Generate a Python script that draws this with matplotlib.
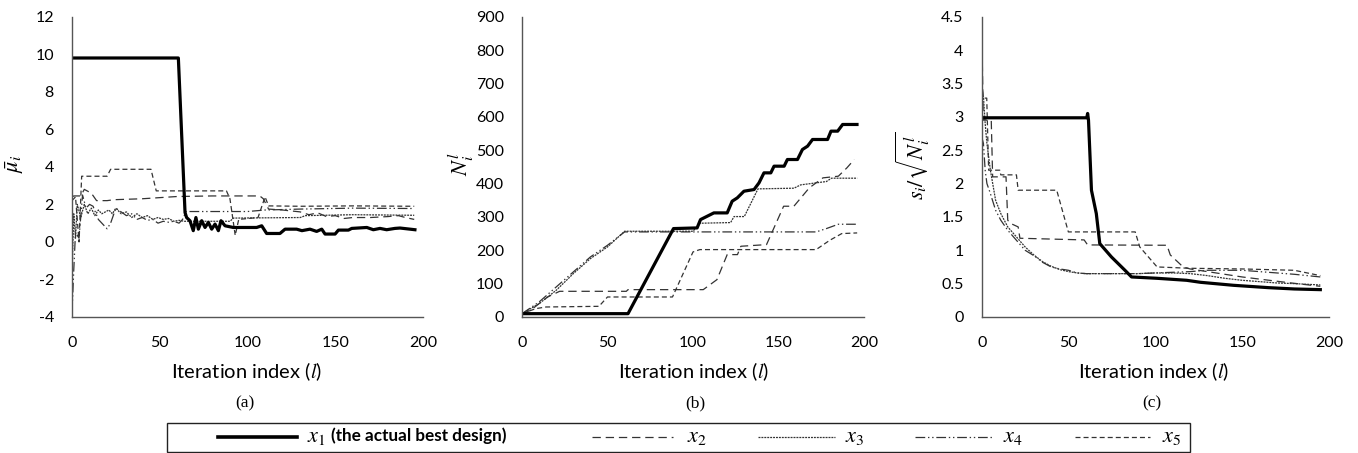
import matplotlib
matplotlib.use("Agg")
import matplotlib.pyplot as plt
from matplotlib.patches import Rectangle
from matplotlib.lines import Line2D

plt.rcParams['font.family'] = ['Lato', 'DejaVu Sans']
plt.rcParams['mathtext.fontset'] = 'stix'
plt.rcParams['lines.scale_dashes'] = False

# ---------------- data: panel (a) mean estimates ----------------
a_x1_l = [0, 60.6, 64.4, 65.3, 67.2, 69.1, 70.6, 72, 73.9, 75.8, 77.7, 79.6, 81.5, 83.4, 84.9, 87.2,
          91.9, 105.2, 108.1, 110.9, 118.5, 121.4, 128, 131, 135.6, 139.4, 142.3, 144.2, 149.9,
          151.8, 157.5, 159.4, 168, 171.7, 175.5, 179.3, 184, 186.9, 192.6, 195.4]
a_x1_v = [9.8, 9.8, 1.57, 1.3, 1.13, 0.6, 1.3, 0.68, 1.13, 0.77, 1.04, 0.68, 0.95, 0.6, 1.13, 0.86,
          0.77, 0.77, 0.86, 0.45, 0.45, 0.68, 0.68, 0.6, 0.68, 0.56, 0.68, 0.42, 0.42,
          0.63, 0.63, 0.72, 0.77, 0.65, 0.72, 0.65, 0.72, 0.74, 0.68, 0.65]
a_x2_l = [0, 1, 5, 7, 11, 14, 20, 24, 40, 60, 80, 107, 109, 112, 120, 130, 135, 140, 145, 150,
          155, 160, 170, 180, 186, 190, 195]
a_x2_v = [2.4, 2.45, 2.45, 2.8, 2.6, 2.2, 2.2, 2.25, 2.3, 2.42, 2.45, 2.45, 2.3, 1.75, 1.7, 1.6,
          1.45, 1.55, 1.35, 1.4, 1.25, 1.3, 1.3, 1.35, 1.4, 1.3, 1.2]
a_x3_l = [0, 1, 2, 3, 5, 7, 9, 11, 13, 15, 17, 19, 21, 23, 25, 28, 31, 34, 37, 40, 43, 46, 49,
          52, 55, 58, 61, 64, 90, 92, 130, 133, 160, 195]
a_x3_v = [-1.8, 1.5, 0.2, 2.0, 1.3, 2.0, 1.5, 1.8, 1.4, 1.7, 1.5, 1.6, 1.7, 1.5, 1.8, 1.5, 1.6,
          1.3, 1.5, 1.3, 1.4, 1.2, 1.3, 1.2, 1.25, 1.1, 1.15, 1.1, 1.1, 1.27, 1.3, 1.4, 1.45, 1.42]
a_x4_l = [0, 1, 2, 4, 6, 8, 10, 12, 15, 18, 20, 22, 25, 28, 31, 34, 37, 40, 43, 46, 49, 52, 55,
          58, 61, 63, 65, 100, 110, 130, 160, 195]
a_x4_v = [-3.8, -1.5, 0.5, 0.2, 2.5, 1.8, 2.0, 1.9, 1.2, 0.9, 0.7, 1.0, 1.8, 1.6, 1.4, 1.5, 1.2,
          1.3, 1.15, 1.2, 1.0, 1.1, 1.05, 1.1, 1.0, 1.2, 1.62, 1.62, 1.7, 1.75, 1.8, 1.78]
a_x5_l = [0, 2, 4, 5.5, 20, 22, 45, 48, 88, 90, 93, 95, 106, 110, 112, 130, 160, 195]
a_x5_v = [2.2, 2.4, 0.0, 3.5, 3.5, 3.87, 3.87, 2.72, 2.72, 2.3, 0.35, 1.2, 1.3, 2.4, 1.92, 1.9,
          1.92, 1.9]

# ---------------- data: panel (b) sample counts ----------------
b_x1_l = [0, 62, 88.6, 102.4, 104.4, 112.2, 120, 122.9, 125.9, 129.8, 135.7, 138.6, 141.5, 145.5,
          147.4, 153.3, 155.2, 161.1, 164, 167, 169.9, 178.7, 180.7, 184.6, 187.5, 191.4, 195.9]
b_x1_v = [10, 10, 265, 267, 292, 312, 312, 347, 357, 377, 382, 402, 432, 432, 452, 452, 472, 472,
          502, 512, 532, 532, 557, 557, 577, 577, 577]
b_x2_l = [0, 5, 15, 22, 61, 62, 106, 114, 120, 126, 128, 143, 153, 159, 168, 176, 185, 190, 194.3]
b_x2_v = [10, 20, 60, 77, 77, 82, 82, 112, 187, 187, 212, 217, 332, 332, 387, 417, 422, 447, 472]
b_x3_l = [0, 10, 20, 30, 40, 50, 60, 100, 104, 122, 124, 130, 138, 159, 163, 178, 181, 196]
b_x3_v = [10, 40, 80, 130, 175, 210, 257, 257, 281, 283, 301, 301, 384, 386, 396, 406, 416, 416]
b_x4_l = [0, 10, 20, 30, 40, 50, 60, 172, 178, 185, 196]
b_x4_v = [10, 45, 90, 135, 180, 215, 255, 255, 265, 278, 278]
b_x5_l = [0, 8, 14, 45, 50, 88, 100, 104, 172, 180, 187, 196]
b_x5_v = [10, 25, 30, 32, 60, 60, 195, 202, 202, 230, 250, 252]

# ---------------- data: panel (c) standard errors ----------------
c_x1_l = [0, 60.5, 61, 61.5, 63.2, 66, 68, 74.7, 82.5, 86.3, 101, 118, 126, 145, 165, 180, 195]
c_x1_v = [2.985, 2.985, 3.05, 2.95, 1.9, 1.55, 1.1, 0.9, 0.7, 0.6, 0.58, 0.55, 0.52, 0.475,
          0.44, 0.42, 0.41]
c_x2_l = [0, 0.9, 5.5, 6.3, 14, 15, 16.8, 21, 22, 59, 61, 106.7, 108.6, 116, 120, 135, 150,
          175, 195]
c_x2_v = [4.4, 2.95, 2.95, 2.1, 2.1, 1.45, 1.4, 1.35, 1.18, 1.155, 1.08, 1.075, 0.93, 0.75,
          0.72, 0.66, 0.6, 0.52, 0.46]
c_x3_l = [0, 1, 2, 3, 5, 8, 11, 15, 20, 25, 30, 35, 40, 45, 50, 55, 60, 90, 100, 110, 120, 130,
          140, 150, 160, 170, 180, 195]
c_x3_v = [3.3, 3.3, 2.9, 2.6, 2.2, 1.75, 1.55, 1.35, 1.2, 1.05, 0.93, 0.83, 0.76, 0.71, 0.68,
          0.66, 0.65, 0.65, 0.66, 0.66, 0.65, 0.62, 0.58, 0.55, 0.53, 0.51, 0.5, 0.48]
c_x4_l = [0, 1, 2, 3, 5, 8, 11, 15, 20, 25, 30, 35, 40, 45, 50, 55, 60, 90, 100, 110, 120, 130,
          140, 150, 160, 170, 180, 195]
c_x4_v = [2.7, 2.6, 2.2, 2.0, 1.85, 1.6, 1.45, 1.3, 1.15, 1.0, 0.92, 0.82, 0.75, 0.72, 0.7,
          0.66, 0.65, 0.65, 0.66, 0.67, 0.68, 0.7, 0.7, 0.7, 0.68, 0.66, 0.64, 0.6]
c_x5_l = [0, 1, 2.9, 4, 10.4, 11, 20, 21, 43.2, 49.9, 88.4, 91, 101, 120, 150, 180, 195]
c_x5_v = [3.5, 3.28, 3.28, 2.2, 2.2, 2.13, 2.13, 1.9, 1.9, 1.275, 1.275, 1.05, 0.75, 0.73,
          0.72, 0.7, 0.62]

x_ticks = [0, 50, 100, 150, 200]
a_yticks = [-4, -2, 0, 2, 4, 6, 8, 10, 12]
b_yticks = [0, 100, 200, 300, 400, 500, 600, 700, 800, 900]
c_yticks = [0, 0.5, 1, 1.5, 2, 2.5, 3, 3.5, 4, 4.5]

legend_math = [r'$x_1$', r'$x_2$', r'$x_3$', r'$x_4$', r'$x_5$']
legend_suffix = '(the actual best design)'
xlabel_text = r'Iteration index ($l$)'
panel_letters = ['(a)', '(b)', '(c)']
ylabels = [r'$\bar{\mu}_i$', r'$N_i^l$', r'$s_i/\sqrt{N_i^l}$']

# ---------------- styles ----------------
THIN = '#333333'
styles = [
    dict(color='black', lw=2.3, linestyle='-'),
    dict(color=THIN, lw=0.9, linestyle=(0, (6.0, 3.5))),
    dict(color=THIN, lw=0.9, linestyle=(0, (1.4, 0.7))),
    dict(color=THIN, lw=0.9, linestyle=(0, (7, 2, 1, 2, 1, 2))),
    dict(color=THIN, lw=0.9, linestyle=(0, (3.6, 2.2))),
]

W, H = 1358, 453
fig = plt.figure(figsize=(W / 100, H / 100), dpi=100)

def fx(px):
    return px / W

def fy(py):
    return (H - py) / H

panels = [
    dict(left=72, right=423, data=[(a_x1_l, a_x1_v), (a_x2_l, a_x2_v), (a_x3_l, a_x3_v),
                                   (a_x4_l, a_x4_v), (a_x5_l, a_x5_v)],
         ylim=(-4, 12), yticks=a_yticks, letter_x=245, xl_x=247, yl_x=15, yl_y=164),
    dict(left=522, right=864, data=[(b_x1_l, b_x1_v), (b_x2_l, b_x2_v), (b_x3_l, b_x3_v),
                                    (b_x4_l, b_x4_v), (b_x5_l, b_x5_v)],
         ylim=(0, 900), yticks=b_yticks, letter_x=695, xl_x=694, yl_x=461, yl_y=164),
    dict(left=981.7, right=1329, data=[(c_x1_l, c_x1_v), (c_x2_l, c_x2_v), (c_x3_l, c_x3_v),
                                       (c_x4_l, c_x4_v), (c_x5_l, c_x5_v)],
         ylim=(0, 4.5), yticks=c_yticks, letter_x=1152, xl_x=1154, yl_x=913, yl_y=166),
]

top_px, bot_px = 16.7, 317
for i, p in enumerate(panels):
    ax = fig.add_axes([fx(p['left']), fy(bot_px), (p['right'] - p['left']) / W,
                       (bot_px - top_px) / H])
    for k in [4, 3, 2, 1, 0]:
        lx, lv = p['data'][k]
        ax.plot(lx, lv, solid_joinstyle='round', **styles[k])
    ax.set_xlim(0, 200)
    ax.set_ylim(*p['ylim'])
    ax.set_xticks(x_ticks)
    ax.set_yticks(p['yticks'])
    ax.set_yticklabels(['%g' % t for t in p['yticks']])
    ax.tick_params(axis='both', length=0, labelsize=11.5, colors='black')
    ax.tick_params(axis='y', pad=13.0)
    ax.tick_params(axis='x', pad=14.0)
    for s in ['top', 'right']:
        ax.spines[s].set_visible(False)
    for s in ['left', 'bottom']:
        ax.spines[s].set_color('#555555')
        ax.spines[s].set_linewidth(1.0)
    ax.patch.set_alpha(0)
    fig.text(fx(p['xl_x']), fy(372), xlabel_text, ha='center', va='center', fontsize=14.5)
    fig.text(fx(p['letter_x']), fy(403), panel_letters[i], ha='center', va='center',
             fontsize=12.5, family='Liberation Serif')
    fig.text(fx(p['yl_x']), fy(p['yl_y']), ylabels[i], ha='center', va='center',
             rotation=90, fontsize=16)

# legend (drawn by hand to match the original's spacing)
leg_y = 437
handle_spans = [(218, 297), (592, 673), (758, 835), (915, 993), (1075, 1150)]
text_x = [307, 687, 845, 1003, 1162]
for k in range(5):
    st = dict(styles[k])
    if k == 0:
        st['lw'] = 2.6
    x0, x1 = handle_spans[k]
    fig.add_artist(Line2D([fx(x0), fx(x1)], [fy(leg_y), fy(leg_y)],
                          transform=fig.transFigure, **st))
    fig.text(fx(text_x[k]), fy(leg_y), legend_math[k], ha='left', va='center', fontsize=16)
fig.text(fx(331), fy(leg_y - 1), legend_suffix, ha='left', va='center', fontsize=12.3,
         fontweight='bold')
fig.patches.append(Rectangle((fx(167), fy(452)), (1190 - 167) / W, 29 / H,
                             transform=fig.transFigure, fill=False, edgecolor='#222222',
                             lw=1.0))

fig.savefig('out.png', dpi=100)
